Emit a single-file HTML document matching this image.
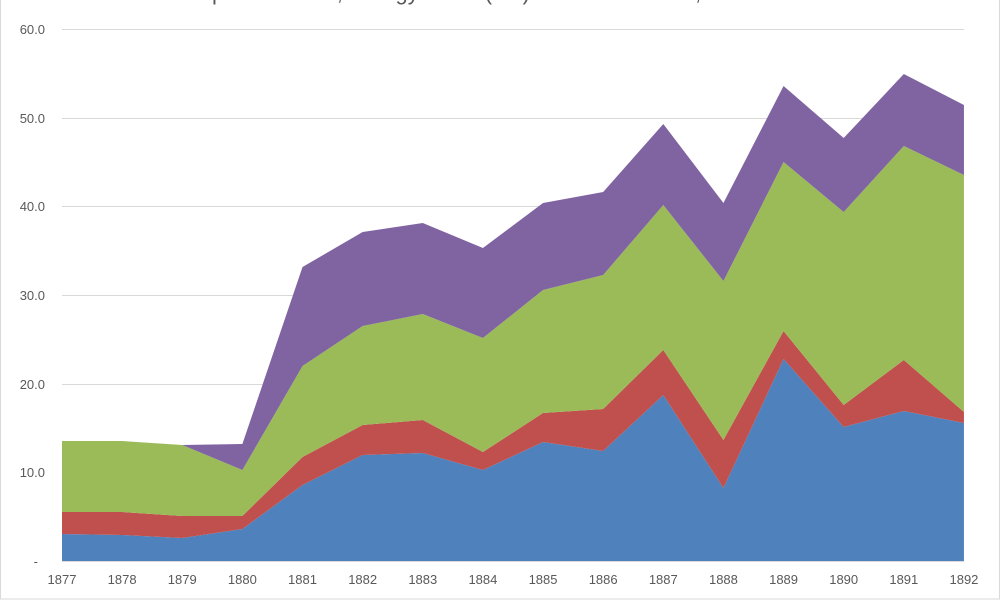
<!DOCTYPE html><html><head><style>body{margin:0;background:#fff}svg{display:block;font-family:"Liberation Sans",sans-serif}</style></head><body>
<svg width="1000" height="600" viewBox="0 0 1000 600">
<rect x="0.5" y="-5" width="999" height="604" fill="#fff" stroke="#d9d9d9"/>
<text x="500" y="0" text-anchor="middle" font-size="22" fill="#595959">Imports of Coal, Energy Items (£m) from all Sources, 1877-1892</text>
<g stroke="#d9d9d9" stroke-width="1">
<line x1="62" x2="964" y1="29.5" y2="29.5"/><line x1="62" x2="964" y1="118.5" y2="118.5"/><line x1="62" x2="964" y1="206.5" y2="206.5"/><line x1="62" x2="964" y1="295.5" y2="295.5"/><line x1="62" x2="964" y1="384.5" y2="384.5"/><line x1="62" x2="964" y1="472.5" y2="472.5"/>
</g>
<g id="areas"></g>
<line x1="62" x2="964" y1="561.5" y2="561.5" stroke="#d9d9d9"/>
<g font-size="13" fill="#595959" text-anchor="end">
<text x="45" y="34">60.0</text><text x="45" y="123">50.0</text><text x="45" y="211">40.0</text><text x="45" y="300">30.0</text><text x="45" y="389">20.0</text><text x="45" y="477">10.0</text><text x="38" y="566">-</text>
</g>
<g font-size="13" fill="#595959" text-anchor="middle" id="xl"></g>
<script>
var X=i=>62+i*60.13;
var B=[534,535,538,529,485,455,453,470,442,451,395,488,359,427,411,423],
R=[512,512,516,516,457,425,420,452,413,409,350,440,331,405,360,412],
G=[441,441,445,470,366,326,314,338,290,275,205,281,162,212,146,175],
P=[441,441,445,444,267,232,223,248,203,192,124,203,86,138,74,105];
var base=B.map(()=>561);
function area(top,bot,c){var s="";top.forEach((y,i)=>s+=X(i)+","+y+" ");for(var i=bot.length-1;i>=0;i--)s+=X(i)+","+bot[i]+" ";
var p=document.createElementNS("http://www.w3.org/2000/svg","polygon");p.setAttribute("points",s);p.setAttribute("fill",c);document.getElementById("areas").appendChild(p);}
area(B,base,"#4f81bd");area(R,B,"#c0504d");area(G,R,"#9bbb59");area(P,G,"#8064a2");
for(var i=0;i<16;i++){var t=document.createElementNS("http://www.w3.org/2000/svg","text");t.setAttribute("x",X(i));t.setAttribute("y",584);t.textContent=1877+i;document.getElementById("xl").appendChild(t);}
</script>
</svg></body></html>
